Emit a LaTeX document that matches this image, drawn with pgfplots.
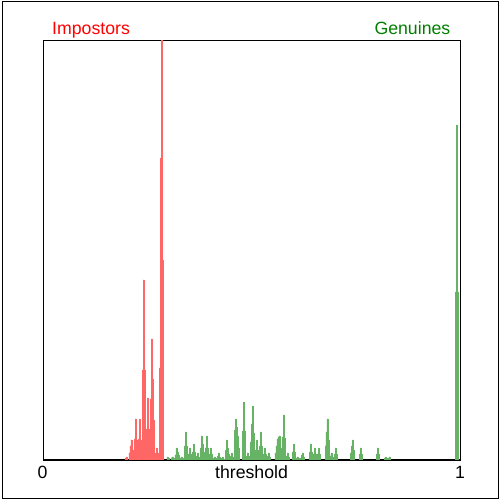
\documentclass[border=0pt]{standalone}
\usepackage{fontspec}
\setmainfont{Liberation Sans}
\usepackage{pgfplots}
\pgfplotsset{compat=1.18}
\definecolor{impbar}{RGB}{255,102,102}
\definecolor{genbar}{RGB}{102,179,102}
\definecolor{implab}{RGB}{255,0,0}
\definecolor{genlab}{RGB}{0,128,0}
\begin{document}
\begin{tikzpicture}[x=1bp,y=1bp]
\path[use as bounding box] (0,0) rectangle (500,500);
\draw[line width=1.1bp] (2.2,1.5) rectangle (498.8,498.5);
\begin{axis}[
  at={(43.3bp,40bp)}, anchor=south west,
  width=417bp, height=419.3bp, scale only axis,
  xmin=0, xmax=1, ymin=0, ymax=419.3,
  xtick=\empty, ytick=\empty,
  axis line style={line width=1.1bp},
  clip=true,
]
\addplot[ybar, bar width=0.0024, bar shift=0pt, fill=genbar, draw=genbar, line width=0.3bp] coordinates {
(0.2978,3) (0.3002,2)
(0.3074,2) (0.3098,3) (0.3122,2) (0.3170,5) (0.3194,12) (0.3218,8) (0.3242,5)
(0.3290,2) (0.3314,3) (0.3338,2) (0.3386,14) (0.3410,28) (0.3434,14)
(0.3482,6) (0.3506,12) (0.3530,6) (0.3578,8) (0.3602,16) (0.3626,8)
(0.3674,4) (0.3698,7) (0.3722,3) (0.3770,12) (0.3794,24) (0.3818,16) (0.3842,8)
(0.3890,12) (0.3914,24) (0.3938,12) (0.3986,6) (0.4010,12) (0.4034,6)
(0.4082,2) (0.4106,3) (0.4130,2) (0.4178,4) (0.4202,7) (0.4226,3)
(0.4274,2) (0.4298,3) (0.4322,1) (0.4370,10) (0.4394,20) (0.4418,12) (0.4442,6)
(0.4490,4) (0.4514,7) (0.4538,3) (0.4586,30) (0.4610,41) (0.4634,33) (0.4658,24) (0.4682,12)
(0.4777,29) (0.4801,58) (0.4825,29) (0.4873,4) (0.4897,7) (0.4921,4)
(0.4969,18) (0.4993,36) (0.5017,54) (0.5041,27) (0.5089,10) (0.5113,20) (0.5137,10)
(0.5185,14) (0.5209,28) (0.5233,14) (0.5281,6) (0.5305,12) (0.5329,6)
(0.5377,4) (0.5401,7) (0.5425,3)
(0.5568,7) (0.5592,14) (0.5616,21) (0.5640,23) (0.5664,24) (0.5688,12)
(0.5736,23) (0.5760,45) (0.5784,22) (0.5832,4) (0.5856,7) (0.5880,3)
(0.5976,8) (0.6000,16) (0.6024,8) (0.6072,2) (0.6096,3) (0.6120,2)
(0.6168,2) (0.6192,5) (0.6216,7) (0.6240,3)
(0.6384,8) (0.6408,16) (0.6432,8) (0.6480,6) (0.6504,12) (0.6528,6)
(0.6576,6) (0.6600,12) (0.6624,6)
(0.6768,14) (0.6791,28) (0.6815,41) (0.6839,20) (0.6887,4) (0.6911,7) (0.6935,3)
(0.6983,6) (0.7007,12) (0.7031,6)
(0.7367,7) (0.7391,14) (0.7415,20) (0.7439,10)
(0.7583,6) (0.7607,12) (0.7631,6)
(0.7991,6) (0.8015,12) (0.8039,6)
(0.8183,2) (0.8207,3) (0.8231,2) (0.8279,2) (0.8303,3)
(0.9885,168) (0.9909,335) (0.9933,168)
};
\addplot[ybar, bar width=0.0024, bar shift=0pt, fill=impbar, draw=impbar, line width=0.3bp] coordinates {
(0.1971,2) (0.1995,3)
(0.2067,7) (0.2091,14) (0.2115,20) (0.2139,10)
(0.2187,21) (0.2211,41) (0.2235,20)
(0.2283,21) (0.2307,41) (0.2331,20)
(0.2379,90) (0.2403,180) (0.2427,90)
(0.2475,31) (0.2499,62) (0.2523,31)
(0.2571,61) (0.2595,121) (0.2619,81) (0.2643,40)
(0.2691,7) (0.2715,12) (0.2739,7)
(0.2787,92) (0.2811,302) (0.2835,420) (0.2859,200)
};
\end{axis}
\fontsize{17.7bp}{20bp}\selectfont
\node[anchor=base west, inner sep=0, text=implab] at (52,465.7) {Impostors};
\node[anchor=base east, inner sep=0, text=genlab] at (450.5,465.7) {Genuines};
\node[anchor=base, inner sep=0] at (42.5,21) {0};
\node[anchor=base, inner sep=0] at (251.5,21) {threshold};
\node[anchor=base, inner sep=0] at (460,21) {1};
\end{tikzpicture}
\end{document}
